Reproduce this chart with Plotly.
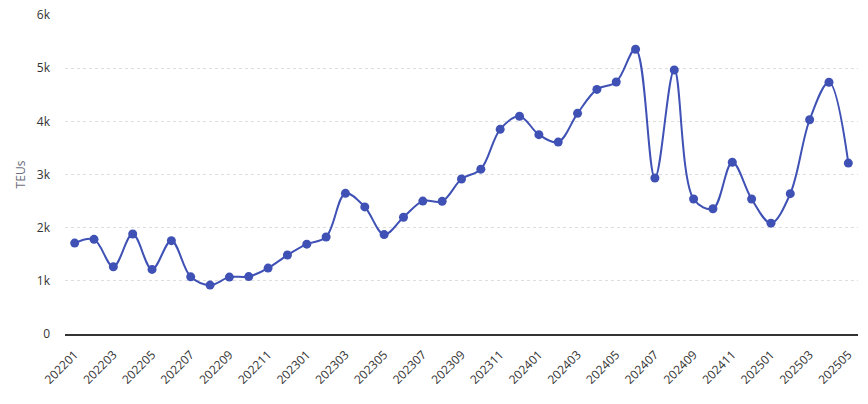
import plotly.graph_objects as go

months = ["202201","202202","202203","202204","202205","202206","202207","202208","202209","202210","202211","202212",
          "202301","202302","202303","202304","202305","202306","202307","202308","202309","202310","202311","202312",
          "202401","202402","202403","202404","202405","202406","202407","202408","202409","202410","202411","202412",
          "202501","202502","202503","202504","202505"]
teus = [1710, 1780, 1265, 1880, 1215, 1755, 1075, 920, 1070, 1080, 1240, 1485,
        1690, 1825, 2645, 2390, 1870, 2195, 2500, 2495, 2915, 3100, 3850, 4095,
        3750, 3610, 4150, 4600, 4740, 5355, 2935, 4965, 2540, 2355, 3230, 2540,
        2085, 2640, 4030, 4735, 3215]
y_ticks = [0, 1000, 2000, 3000, 4000, 5000, 6000]
y_tick_labels = ["0", "1k", "2k", "3k", "4k", "5k", "6k"]

font_family = "Segoe UI, Open Sans, Noto Sans, sans-serif"

fig = go.Figure(go.Scatter(
    x=months, y=teus, mode="lines+markers",
    line=dict(color="#3F51B5", width=2, shape="spline", smoothing=1.0),
    marker=dict(color="#3F51B5", size=9),
))

fig.update_layout(
    width=868, height=404,
    margin=dict(l=65, r=10, t=15, b=70),
    paper_bgcolor="white", plot_bgcolor="white",
    font=dict(family=font_family, size=12, color="#333333"),
    showlegend=False,
    xaxis=dict(
        type="category",
        automargin=False,
        range=[-0.5, len(months) - 0.5],
        tickmode="array",
        tickvals=months[::2],
        ticktext=months[::2],
        tickangle=-45,
        showgrid=False,
        showline=True, linecolor="#333333", linewidth=2,
        ticks="", ticklabelstandoff=7,
        tickfont=dict(size=12, color="#333333"),
    ),
    yaxis=dict(
        automargin=False,
        range=[0, 6000],
        tickvals=y_ticks, ticktext=y_tick_labels,
        showgrid=True, gridcolor="#DDDDDD", griddash="dot", gridwidth=1,
        zeroline=False, showline=False, ticks="",
        ticklabelstandoff=14,
        title=dict(text="TEUs", font=dict(size=12, color="#6E6E80"), standoff=8),
        tickfont=dict(size=12, color="#333333"),
    ),
)

fig.write_html("out.html", config={"displayModeBar": False},
               post_script="document.body.style.margin='0';")
